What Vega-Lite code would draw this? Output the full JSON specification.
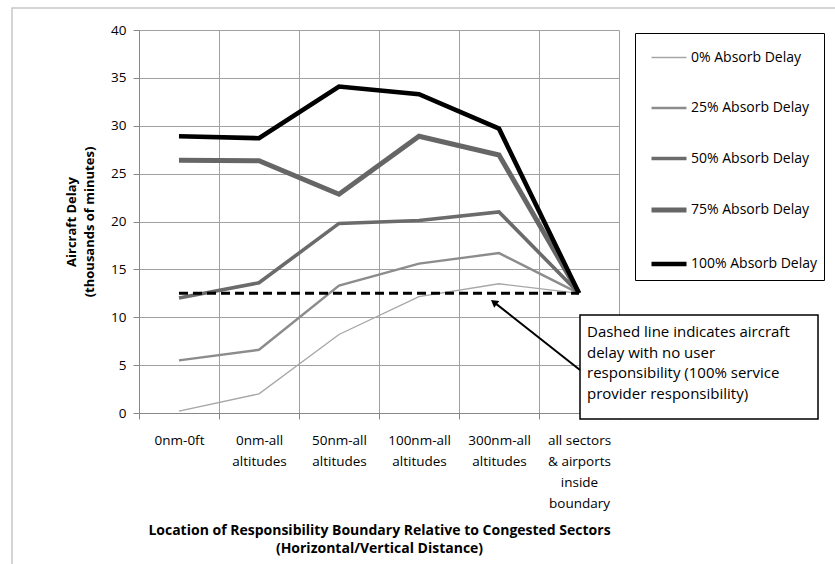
{
  "$schema": "https://vega.github.io/schema/vega-lite/v6.json",
  "width": 480,
  "height": 383,
  "autosize": {"type": "none"},
  "padding": {"left": 139, "top": 30, "right": 216, "bottom": 151},
  "background": "white",
  "config": {"font": "Open Sans", "view": {"stroke": null}},
  "datasets": {
    "series": [
      {"series": "0% Absorb Delay", "location": "0nm-0ft", "delay": 0.2},
      {"series": "0% Absorb Delay", "location": "0nm-all altitudes", "delay": 2.0},
      {"series": "0% Absorb Delay", "location": "50nm-all altitudes", "delay": 8.2},
      {"series": "0% Absorb Delay", "location": "100nm-all altitudes", "delay": 12.15},
      {"series": "0% Absorb Delay", "location": "300nm-all altitudes", "delay": 13.5},
      {"series": "0% Absorb Delay", "location": "all sectors & airports inside boundary", "delay": 12.5},
      {"series": "25% Absorb Delay", "location": "0nm-0ft", "delay": 5.5},
      {"series": "25% Absorb Delay", "location": "0nm-all altitudes", "delay": 6.6},
      {"series": "25% Absorb Delay", "location": "50nm-all altitudes", "delay": 13.3},
      {"series": "25% Absorb Delay", "location": "100nm-all altitudes", "delay": 15.6},
      {"series": "25% Absorb Delay", "location": "300nm-all altitudes", "delay": 16.7},
      {"series": "25% Absorb Delay", "location": "all sectors & airports inside boundary", "delay": 12.5},
      {"series": "50% Absorb Delay", "location": "0nm-0ft", "delay": 12.0},
      {"series": "50% Absorb Delay", "location": "0nm-all altitudes", "delay": 13.6},
      {"series": "50% Absorb Delay", "location": "50nm-all altitudes", "delay": 19.8},
      {"series": "50% Absorb Delay", "location": "100nm-all altitudes", "delay": 20.1},
      {"series": "50% Absorb Delay", "location": "300nm-all altitudes", "delay": 21.0},
      {"series": "50% Absorb Delay", "location": "all sectors & airports inside boundary", "delay": 12.5},
      {"series": "75% Absorb Delay", "location": "0nm-0ft", "delay": 26.4},
      {"series": "75% Absorb Delay", "location": "0nm-all altitudes", "delay": 26.35},
      {"series": "75% Absorb Delay", "location": "50nm-all altitudes", "delay": 22.85},
      {"series": "75% Absorb Delay", "location": "100nm-all altitudes", "delay": 28.9},
      {"series": "75% Absorb Delay", "location": "300nm-all altitudes", "delay": 26.95},
      {"series": "75% Absorb Delay", "location": "all sectors & airports inside boundary", "delay": 12.5},
      {"series": "100% Absorb Delay", "location": "0nm-0ft", "delay": 28.9},
      {"series": "100% Absorb Delay", "location": "0nm-all altitudes", "delay": 28.7},
      {"series": "100% Absorb Delay", "location": "50nm-all altitudes", "delay": 34.1},
      {"series": "100% Absorb Delay", "location": "100nm-all altitudes", "delay": 33.3},
      {"series": "100% Absorb Delay", "location": "300nm-all altitudes", "delay": 29.7},
      {"series": "100% Absorb Delay", "location": "all sectors & airports inside boundary", "delay": 12.5}
    ],
    "baseline": [
      {"location": "0nm-0ft", "delay": 12.5},
      {"location": "0nm-all altitudes", "delay": 12.5},
      {"location": "50nm-all altitudes", "delay": 12.5},
      {"location": "100nm-all altitudes", "delay": 12.5},
      {"location": "300nm-all altitudes", "delay": 12.5},
      {"location": "all sectors & airports inside boundary", "delay": 12.5}
    ],
    "frame": [{"x1": -1.5875, "x2": 9, "y1": 42.3, "y2": -17}],
    "note": [{"x1": 5.5125, "x2": 8.4875, "y1": 10.24, "y2": -0.63, "tx": 5.6, "ty": 9.15, "text": "Dashed line indicates aircraft\ndelay with no user\nresponsibility (100% service\nprovider responsibility)"}],
    "arrow": [{"x1": 5.5125, "y1": 4.49, "x2": 4.436, "y2": 11.58}]
  },
  "layer": [
    {
      "layer": [
        {
          "data": {"name": "series"},
          "mark": {"type": "line"},
          "encoding": {
            "x": {
              "field": "location", "type": "nominal", "sort": null, "bandPosition": 0.5,
              "scale": {"type": "band", "paddingInner": 0, "paddingOuter": 0},
              "axis": {
                "title": ["Location of Responsibility Boundary Relative to Congested Sectors", "(Horizontal/Vertical Distance)"],
                "tickBand": "extent", "grid": true, "gridColor": "#a0a0a0", "gridWidth": 1,
                "domainColor": "#888888", "tickColor": "#888888", "tickSize": 6,
                "labelAngle": 0, "labelPadding": 14, "labelFontSize": 13.5, "labelColor": "#000000",
                "labelLineHeight": 21, "labelLimit": 0, "labelBaseline": "top",
                "labelExpr": "!datum.value ? '' : (datum.value == 'all sectors & airports inside boundary' ? ['all sectors', '& airports', 'inside', 'boundary'] : split(datum.value, ' '))",
                "titleFontSize": 14, "titleFontWeight": "bold", "titleColor": "#000000",
                "titlePadding": 14, "titleLineHeight": 18
              }
            },
            "y": {
              "field": "delay", "type": "quantitative",
              "scale": {"domain": [0, 40]},
              "axis": {
                "title": ["Aircraft Delay", "(thousands of minutes)"],
                "values": [0, 5, 10, 15, 20, 25, 30, 35, 40],
                "grid": true, "gridColor": "#a0a0a0", "gridWidth": 1,
                "domainColor": "#888888", "tickColor": "#888888", "tickSize": 6,
                "labelFontSize": 13.5, "labelColor": "#000000", "labelPadding": 7,
                "titleFontSize": 13, "titleFontWeight": "bold", "titleColor": "#000000",
                "titlePadding": 14, "titleLineHeight": 18
              }
            },
            "color": {
              "field": "series", "type": "nominal",
              "scale": {
                "domain": ["0% Absorb Delay", "25% Absorb Delay", "50% Absorb Delay", "75% Absorb Delay", "100% Absorb Delay"],
                "range": ["#a6a6a6", "#8c8c8c", "#6b6b6b", "#666666", "#000000"]
              },
              "legend": {
                "orient": "none", "legendX": 496, "legendY": 3, "title": null,
                "symbolType": "stroke", "symbolSize": 1225, "symbolOffset": 8,
                "labelOffset": 2, "labelFontSize": 14, "labelColor": "#000000",
                "rowPadding": 24, "padding": 6, "strokeColor": "#000000", "fillColor": "#ffffff"
              }
            },
            "strokeWidth": {
              "field": "series", "type": "nominal",
              "scale": {
                "type": "ordinal",
                "domain": ["0% Absorb Delay", "25% Absorb Delay", "50% Absorb Delay", "75% Absorb Delay", "100% Absorb Delay"],
                "range": [1.3, 2.4, 3.6, 5, 4.6]
              },
              "legend": {
                "orient": "none", "legendX": 496, "legendY": 3, "title": null,
                "symbolType": "stroke", "symbolSize": 1225, "symbolOffset": 8,
                "labelOffset": 2, "labelFontSize": 14, "labelColor": "#000000",
                "rowPadding": 24, "padding": 6, "strokeColor": "#000000", "fillColor": "#ffffff"
              }
            }
          }
        },
        {
          "data": {"name": "baseline"},
          "mark": {"type": "line", "color": "#000000", "strokeWidth": 3, "strokeDash": [9, 5]},
          "encoding": {
            "x": {"field": "location", "type": "nominal", "sort": null, "bandPosition": 0.5},
            "y": {"field": "delay", "type": "quantitative"}
          }
        }
      ]
    },
    {
      "data": {"name": "frame"},
      "mark": {"type": "rect", "fill": null, "stroke": "#c8c8c8", "strokeWidth": 1.5},
      "encoding": {
        "x": {"field": "x1", "type": "quantitative", "scale": {"domain": [0, 6]}, "axis": null},
        "x2": {"field": "x2"},
        "y": {"field": "y1", "type": "quantitative"},
        "y2": {"field": "y2"}
      }
    },
    {
      "data": {"name": "note"},
      "mark": {"type": "rect", "fill": "#ffffff", "stroke": "#000000", "strokeWidth": 1.5},
      "encoding": {
        "x": {"field": "x1", "type": "quantitative", "scale": {"domain": [0, 6]}, "axis": null},
        "x2": {"field": "x2"},
        "y": {"field": "y1", "type": "quantitative"},
        "y2": {"field": "y2"}
      }
    },
    {
      "data": {"name": "note"},
      "mark": {"type": "text", "align": "left", "baseline": "top", "fontSize": 15, "lineHeight": 20.5, "lineBreak": "\n", "color": "#000000"},
      "encoding": {
        "x": {"field": "tx", "type": "quantitative", "scale": {"domain": [0, 6]}, "axis": null},
        "y": {"field": "ty", "type": "quantitative"},
        "text": {"field": "text"}
      }
    },
    {
      "data": {"name": "arrow"},
      "mark": {"type": "rule", "color": "#000000", "strokeWidth": 2},
      "encoding": {
        "x": {"field": "x1", "type": "quantitative", "scale": {"domain": [0, 6]}, "axis": null},
        "x2": {"field": "x2"},
        "y": {"field": "y1", "type": "quantitative"},
        "y2": {"field": "y2"}
      }
    },
    {
      "data": {"name": "arrow"},
      "mark": {"type": "point", "shape": "triangle-up", "filled": true, "color": "#000000", "opacity": 1, "size": 70, "angle": 308},
      "encoding": {
        "x": {"field": "x2", "type": "quantitative", "scale": {"domain": [0, 6]}, "axis": null},
        "y": {"field": "y2", "type": "quantitative"}
      }
    }
  ],
  "resolve": {"scale": {"x": "independent"}}
}
